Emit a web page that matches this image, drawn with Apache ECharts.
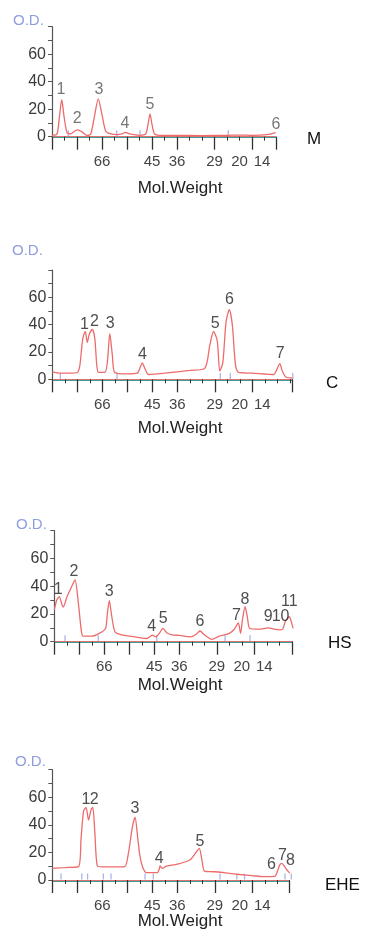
<!DOCTYPE html>
<html><head><meta charset="utf-8">
<script src="https://cdn.jsdelivr.net/npm/echarts@6/dist/echarts.min.js"></script>
<style>html,body{margin:0;padding:0;background:#fff}#c{width:368px;height:942px}</style>
</head><body><div id="c"></div>
<script>
// ---- data (x in lane units, y in O.D.) ----
const tickLabels = ["66", "45", "36", "29", "20", "14"];
const tickLabelPos = [2, 4, 5, 6.5, 7.5, 8.4];
const majorTickPos = [0, 1, 2, 3, 4, 5, 6.5, 8];
const laneNames = ["M", "C", "HS", "EHE"];
const laneEnds = [8.95, 9.6, 9.53, 9.48];

const traceM = [[0,1],[0.2,2],[0.3,15],[0.39,27],[0.48,15],[0.6,3],[0.75,2],[0.9,4],[1.03,5],[1.2,3.5],[1.4,1],[1.55,2],[1.7,15],[1.85,27.5],[2.0,16],[2.15,4],[2.35,2],[2.6,1.5],[2.8,2],[2.93,3.2],[3.1,2],[3.5,1],[3.75,2],[3.85,10],[3.92,16.5],[4.0,9],[4.1,2],[4.3,1],[5,1],[6,0.8],[7,1],[7.5,1.2],[8,1],[8.6,1.5],[8.95,3]];
const traceC = [[0,5.5],[0.3,4.5],[0.7,4.5],[1.0,5],[1.1,10],[1.22,30],[1.32,35],[1.4,27],[1.48,33],[1.6,36.5],[1.7,30],[1.78,10],[1.85,5],[2.1,5],[2.2,12],[2.3,33.5],[2.4,18],[2.5,5],[3.0,4],[3.4,4.5],[3.52,9],[3.6,12],[3.7,8],[3.85,3.5],[4.5,4.5],[5.5,6.5],[6.1,8],[6.3,25],[6.45,35],[6.6,28],[6.7,6],[6.82,12],[6.95,42],[7.08,51],[7.2,40],[7.33,10],[7.45,5],[8.0,4.5],[8.85,3.5],[9.0,8],[9.1,11.5],[9.2,6],[9.35,1.5],[9.6,1]];
const traceHS = [[0,23],[0.1,30],[0.2,32.5],[0.3,27],[0.36,25],[0.5,32],[0.7,40],[0.83,44.5],[0.95,30],[1.08,8],[1.15,4],[1.5,4],[1.8,6],[2.05,9.5],[2.12,20],[2.2,29.5],[2.3,18],[2.43,7],[2.7,5],[3.03,4],[3.4,3],[3.7,2.3],[3.93,4.8],[4.05,3.5],[4.2,6],[4.34,9.6],[4.5,6.5],[4.7,5],[5.0,4.5],[5.45,3.5],[5.65,5],[5.83,7.7],[6.0,5],[6.3,1.7],[6.6,4],[7.0,6],[7.2,9],[7.36,13.5],[7.45,6],[7.52,15],[7.63,25.2],[7.72,18],[7.82,9.5],[8.2,9],[8.56,10],[8.8,9],[9.05,8.5],[9.15,9.5],[9.25,15],[9.4,18],[9.5,13],[9.55,9.6]];
const traceEHE = [[0,8.5],[0.5,9],[1.05,9.7],[1.15,30],[1.25,50],[1.35,52.7],[1.45,43.5],[1.55,51],[1.62,52.7],[1.7,35],[1.8,10.2],[2.0,9.5],[2.5,9.5],[2.9,9.7],[3.05,20],[3.2,38],[3.31,45.5],[3.42,30],[3.5,18],[3.62,9],[3.77,5.3],[4.2,5.3],[4.28,8],[4.31,10.2],[4.4,8.5],[4.57,10],[5.0,11.5],[5.5,14.5],[5.75,20],[5.88,23],[5.98,15],[6.1,6.2],[6.5,6],[7.0,5],[7.5,4],[8.0,3.2],[8.44,2.4],[8.9,2.6],[9.0,6],[9.1,11],[9.18,12],[9.3,9.5],[9.4,7],[9.5,5]];

const peaksM = [["1",0.36,34],["2",1.01,13.4],["3",1.88,34.5],["4",2.92,9.7],["5",3.92,23],["6",8.96,8.5]];
const peaksC = [["1",1.29,39.8],["2",1.69,42.2],["3",2.32,41],["4",3.61,17.8],["5",6.52,41],["6",7.09,58.1],["7",9.12,19]];
const peaksHS = [["1",0.16,37.7],["2",0.79,50.4],["3",2.2,36],["4",3.9,10.8],["5",4.36,16.8],["6",5.83,14.4],["7",7.29,18.5],["8",7.63,30.5],["9",8.56,18],["10",9.05,18],["11",9.4,28.8]];
const peaksEHE = [["1",1.35,58],["2",1.68,58],["3",3.31,51.5],["4",4.28,15.7],["5",5.91,27.8],["6",8.77,10.9],["7",9.21,17.4],["8",9.53,13.8]];

// pale lane-boundary markers along the baseline
const bandsM = [0.65, 2.59, 3.52, 7.05];
const bandsC = [0.32, 2.59, 6.72, 7.12, 9.62];
const bandsHS = [0.43, 1.76, 4.1, 6.83, 7.83];
const bandsEHE = [0.35, 1.18, 1.41, 2.04, 2.35, 3.71, 4.04, 6.71, 7.38, 7.69, 9.31, 9.56];

const traces = [traceM, traceC, traceHS, traceEHE];
const peaks = [peaksM, peaksC, peaksHS, peaksEHE];
const bands = [bandsM, bandsC, bandsHS, bandsEHE];

// ---- layout ----
const grids = [
  {left: 52, top: 26.7, height: 110},
  {left: 52.3, top: 270, height: 109.3},
  {left: 54.3, top: 530.7, height: 111},
  {left: 52.3, top: 769.7, height: 110.3}
];
const unitPx = 25;
const molY = [188, 428, 685, 921];
const odPos = [[13, 21.5], [12, 251.5], [16, 525], [15, 762]];
const namePos = [[307, 139], [326, 383], [328, 643], [325, 885]];
const FONT = '"Liberation Sans", Arial, sans-serif';
const LINE = '#ee6b6b';

const option = {
  animation: false,
  backgroundColor: '#fff',
  grid: [], xAxis: [], yAxis: [], series: [], graphic: []
};

for (let i = 0; i < 4; i++) {
  const g = grids[i];
  const xmax = laneEnds[i];
  option.grid.push({left: g.left, top: g.top, width: xmax * unitPx, height: g.height, containLabel: false});
  // major axis with labels
  option.xAxis.push({
    type: 'value', gridIndex: i, min: 0, max: xmax, position: 'bottom', offset: 1,
    axisLine: {show: true, onZero: false, lineStyle: {color: '#3f9a94', width: 1}},
    axisTick: {show: true, customValues: majorTickPos.concat([xmax]), length: 12, lineStyle: {color: '#333', width: 1.3}},
    axisLabel: {show: true, customValues: tickLabelPos, margin: 17, color: '#444', fontSize: 15, fontFamily: FONT,
      formatter: v => { const k = tickLabelPos.findIndex(p => Math.abs(p - v) < 1e-6); return k >= 0 ? tickLabels[k] : ''; }},
    splitLine: {show: false}
  });
  // minor ticks axis
  option.xAxis.push({
    type: 'value', gridIndex: i, min: 0, max: xmax, interval: 0.5, position: 'bottom',
    axisLine: {show: true, onZero: false, lineStyle: {color: '#e07272', width: 1}},
    axisTick: {show: true, length: 4, lineStyle: {color: '#333', width: 1}},
    axisLabel: {show: false}, splitLine: {show: false}
  });
  option.yAxis.push({
    type: 'value', gridIndex: i, min: 0, max: 80, interval: 20,
    axisLine: {show: true, lineStyle: {color: '#555', width: 1.2}},
    axisTick: {show: true, length: 4, lineStyle: {color: '#555'}},
    minorTick: {show: true, splitNumber: 2, length: 4, lineStyle: {color: '#555'}},
    axisLabel: {showMaxLabel: false, color: '#3a3a3a', fontSize: 16, fontFamily: FONT, margin: 6},
    splitLine: {show: false}
  });
  option.series.push({
    type: 'scatter', xAxisIndex: i * 2, yAxisIndex: i, symbol: 'rect', symbolSize: [1.3, 6], clip: false,
    itemStyle: {color: '#95a3e3'}, data: bands[i].map(x => [x, 2.5]), z: 2, silent: true
  });
  option.series.push({
    type: 'line', xAxisIndex: i * 2, yAxisIndex: i, data: traces[i], showSymbol: false, smooth: 0.25,
    clip: false, lineStyle: {color: LINE, width: 1.3}, z: 3
  });
  option.series.push({
    type: 'scatter', xAxisIndex: i * 2, yAxisIndex: i, symbolSize: 1, clip: false,
    itemStyle: {color: 'rgba(0,0,0,0)'},
    data: peaks[i].map(p => ({value: [p[1], p[2]], name: p[0]})),
    label: {show: true, position: 'inside', formatter: p => p.name, color: i === 0 ? '#555' : '#222', fontSize: 16, fontFamily: FONT},
    z: 4
  });
  option.graphic.push({type: 'text', left: odPos[i][0], top: odPos[i][1] - 8,
    style: {text: 'O.D.', fill: '#8e9ddf', font: '15px ' + FONT}});
  option.graphic.push({type: 'text', x: namePos[i][0], y: namePos[i][1],
    style: {text: laneNames[i], fill: '#111', font: '17px ' + FONT, textVerticalAlign: 'middle'}});
  option.graphic.push({type: 'text', x: 180, y: molY[i],
    style: {text: 'Mol.Weight', fill: '#222', font: '17px ' + FONT, textAlign: 'center', textVerticalAlign: 'middle'}});
}

const chart = echarts.init(document.getElementById('c'), null, {renderer: 'canvas'});
chart.setOption(option);
</script>
</body></html>
